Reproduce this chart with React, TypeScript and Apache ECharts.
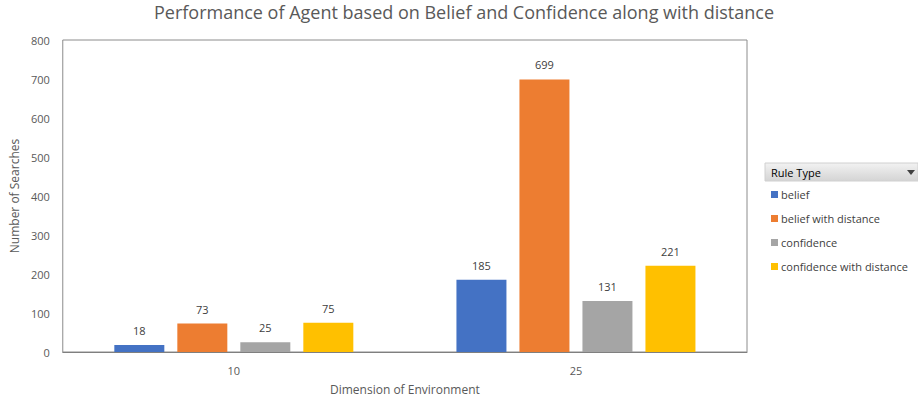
import React, { useEffect, useRef } from "react";
import * as echarts from "echarts";

const categories = ["10", "25"];
const seriesNames = ["belief", "belief with distance", "confidence", "confidence with distance"];
const belief = [18, 185];
const beliefWithDistance = [73, 699];
const confidence = [25, 131];
const confidenceWithDistance = [75, 221];
const colors = ["#4472c4", "#ed7d31", "#a5a5a5", "#ffc000"];
const yTicks = [0, 100, 200, 300, 400, 500, 600, 700, 800];

export default function App() {
  const ref = useRef<HTMLDivElement>(null);
  useEffect(() => {
    if (!ref.current) return;
    const chart = echarts.init(ref.current, undefined, { renderer: "svg" });
    const font = "Open Sans, Noto Sans, sans-serif";
    const values = [belief, beliefWithDistance, confidence, confidenceWithDistance];
    chart.setOption({
      animation: false,
      backgroundColor: "#ffffff",
      textStyle: { fontFamily: font },
      title: {
        text: "Performance of Agent based on Belief and Confidence along with distance",
        left: 459,
        textAlign: "center",
        top: -2,
        textStyle: { fontFamily: font, fontSize: 18, fontWeight: "normal", color: "#595959" },
      },
      grid: {
        left: 59,
        top: 40,
        width: 688,
        height: 312,
        show: true,
        borderColor: "#8c8c8c",
        borderWidth: 1,
        containLabel: false,
      },
      legend: {
        orient: "vertical",
        left: 766,
        top: 184,
        icon: "rect",
        itemWidth: 7,
        itemHeight: 7,
        itemGap: 13,
        textStyle: { fontFamily: font, fontSize: 11, color: "#404040", padding: [0, 0, 0, -2] },
        data: seriesNames,
      },
      xAxis: {
        type: "category",
        data: categories,
        name: "Dimension of Environment",
        nameLocation: "middle",
        nameGap: 31,
        nameTextStyle: { fontFamily: font, fontSize: 12, color: "#595959" },
        axisLine: { show: true, lineStyle: { color: "#7f7f7f" } },
        axisTick: { show: false },
        axisLabel: { fontFamily: font, fontSize: 11, color: "#595959", margin: 13 },
      },
      yAxis: {
        type: "value",
        min: yTicks[0],
        max: yTicks[yTicks.length - 1],
        interval: 100,
        name: "Number of Searches",
        nameLocation: "middle",
        nameGap: 38,
        nameTextStyle: { fontFamily: font, fontSize: 12, color: "#595959" },
        axisLine: { show: false },
        axisTick: { show: false },
        splitLine: { show: false },
        axisLabel: { fontFamily: font, fontSize: 11, color: "#595959", margin: 13 },
      },
      series: seriesNames.map((name, i) => ({
        name,
        type: "bar",
        data: values[i],
        barWidth: 50,
        barGap: "26%",
        itemStyle: { color: colors[i] },
        label: {
          show: true,
          position: "top",
          distance: 9,
          fontFamily: font,
          fontSize: 11,
          color: "#404040",
        },
      })),
      graphic: [
        {
          type: "rect",
          shape: { x: 765, y: 163, width: 153, height: 18 },
          style: {
            fill: new echarts.graphic.LinearGradient(0, 0, 0, 1, [
              { offset: 0, color: "#f2f2f2" },
              { offset: 1, color: "#d4d4d4" },
            ]),
            stroke: "#d0d0d0",
          },
        },
        {
          type: "text",
          x: 771,
          y: 172,
          style: {
            text: "Rule Type",
            fontFamily: font,
            fontSize: 11,
            fill: "#000000",
            verticalAlign: "middle",
          },
        },
        {
          type: "polygon",
          shape: { points: [[907, 170], [915, 170], [911, 175]] },
          style: { fill: "#404040" },
        },
      ],
    });
    return () => chart.dispose();
  }, []);
  return <div ref={ref} style={{ width: 918, height: 400, position: "absolute", left: 0, top: 0 }} />;
}
